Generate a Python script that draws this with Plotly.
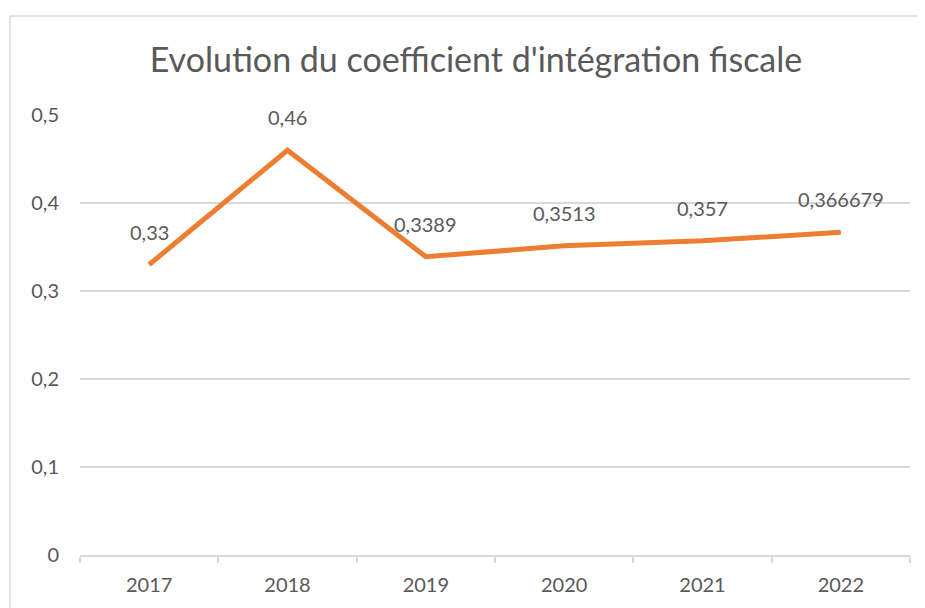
import plotly.graph_objects as go

years = ["2017", "2018", "2019", "2020", "2021", "2022"]
values = [0.33, 0.46, 0.3389, 0.3513, 0.357, 0.366679]
labels = [str(v).replace(".", ",") for v in values]
y_ticks = [0, 0.1, 0.2, 0.3, 0.4, 0.5]
y_ticklabels = ["0", "0,1", "0,2", "0,3", "0,4", "0,5"]

FONT = "Lato"
TXT = "#595959"
GRID = "#D9D9D9"

fig = go.Figure()
fig.add_trace(go.Scatter(
    x=years, y=values, mode="lines",
    line=dict(color="#ED7D31", width=5),
    hoverinfo="skip", showlegend=False,
))

for i, (y, t) in enumerate(zip(values, labels)):
    fig.add_annotation(x=i, y=y, xref="x", yref="y", text=t, showarrow=False,
                       yshift=33, font=dict(family=FONT, size=20, color=TXT))

fig.add_shape(type="rect", xref="paper", yref="paper",
              x0=(10 - 80) / 830, x1=1.1, y0=-0.3, y1=(555 - 16) / 440,
              line=dict(color=GRID, width=1.5), layer="below")

fig.update_layout(
    width=925, height=608,
    margin=dict(l=72, r=23, t=107, b=61),
    paper_bgcolor="white", plot_bgcolor="white",
    separators=", ",
    title=dict(text="Evolution du coefficient d'intégration fiscale",
               x=468 / 925, xanchor="center", xref="container",
               y=1 - 52 / 608, yanchor="middle", yref="container",
               font=dict(family=FONT, size=34, color=TXT)),
    font=dict(family=FONT, color=TXT),
)
fig.update_xaxes(
    type="category", range=[-0.5, 5.5],
    showline=True, linecolor=GRID, linewidth=1.5,
    ticks="outside", tickson="boundaries", ticklen=6, tickcolor=GRID, tickwidth=1.5,
    showgrid=False, tickfont=dict(family=FONT, size=20, color=TXT),
    ticklabelstandoff=11,
)
fig.update_yaxes(
    range=[0, 0.5], tickvals=y_ticks, ticktext=y_ticklabels,
    showgrid=True, gridcolor=GRID, gridwidth=1.5,
    zeroline=False, showline=False, ticks="",
    tickfont=dict(family=FONT, size=20, color=TXT),
    ticklabelstandoff=20,
)

fig.write_html("out.html")
